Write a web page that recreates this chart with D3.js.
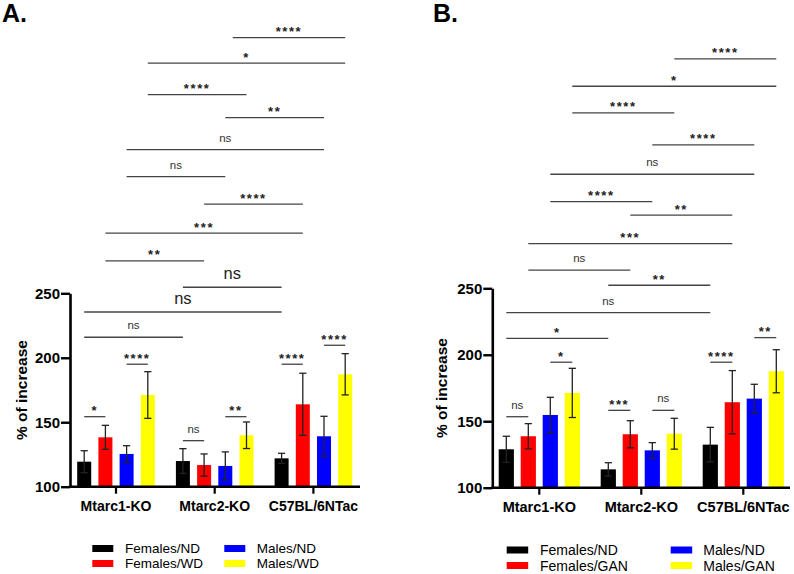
<!DOCTYPE html>
<html>
<head>
<meta charset="utf-8">
<script src="https://cdn.jsdelivr.net/npm/d3@7"></script>
<style>
  html, body { margin: 0; padding: 0; background: #fff; }
  svg { display: block; font-family: "Liberation Sans", Arial, sans-serif; }
</style>
</head>
<body>
<svg id="chart" width="794" height="574"></svg>
<script>
// ---------------- DATA ----------------
const groups = ["Mtarc1-KO", "Mtarc2-KO", "C57BL/6NTac"];
const seriesA = ["Females/ND", "Females/WD", "Males/ND", "Males/WD"];
const seriesB = ["Females/ND", "Females/GAN", "Males/ND", "Males/GAN"];
const colors = ["#000000", "#ff0000", "#0000ff", "#ffff00"];
const yTicks = [100, 150, 200, 250];

// means per group (rows) x series (cols)
const meanA = [[119.4, 138.3, 125.4, 171.1], [119.9, 116.8, 116.1, 139.9], [122.0, 163.9, 139.1, 187.2]];
const errA  = [[8.5, 9.3, 6.4, 18.1], [9.6, 8.6, 10.9, 10.3], [3.9, 24.1, 15.5, 16.0]];
const meanB = [[128.9, 138.7, 154.7, 171.3], [113.8, 140.2, 128.1, 140.6], [132.4, 164.3, 167.0, 187.6]];
const errB  = [[9.8, 9.5, 13.3, 18.5], [5.0, 10.2, 5.8, 11.6], [13.0, 23.8, 10.8, 16.2]];

// significance brackets: [group1, bar1, group2, bar2, level (y units), label, big]
const annA = [
  [0, 0, 0, 1, 154.3, "*", 0], [0, 2, 0, 3, 195.0, "****", 0],
  [1, 0, 1, 1, 135.7, "ns", 0], [1, 2, 1, 3, 154.3, "**", 0],
  [2, 0, 2, 1, 195.0, "****", 0], [2, 2, 2, 3, 209.7, "****", 0],
  [0, 0, 1, 0, 215.9, "ns", 0], [0, 0, 2, 0, 235.5, "ns", 1],
  [1, 0, 2, 0, 254.7, "ns", 1], [0, 1, 1, 1, 275.1, "**", 0],
  [0, 1, 2, 1, 296.6, "***", 0], [1, 1, 2, 1, 319.1, "****", 0],
  [0, 2, 1, 2, 340.5, "ns", 0], [0, 2, 2, 2, 361.4, "ns", 0],
  [1, 2, 2, 2, 386.3, "**", 0], [0, 3, 1, 3, 404.1, "****", 0],
  [0, 3, 2, 3, 428.5, "*", 0], [1, 2.35, 2, 3, 448.3, "****", 0]
];
const annB = [
  [0, 0, 0, 1, 153.4, "ns", 0], [0, 2, 0, 3, 194.4, "*", 0],
  [1, 0, 1, 1, 158.2, "***", 0], [1, 2, 1, 3, 158.2, "ns", 0],
  [2, 0, 2, 1, 194.4, "****", 0], [2, 2, 2, 3, 212.9, "**", 0],
  [0, 0, 1, 0, 212.4, "*", 0], [0, 0, 2, 0, 231.7, "ns", 0],
  [1, 0, 2, 0, 252.3, "**", 0], [0, 1, 1, 1, 263.6, "ns", 0],
  [0, 1, 2, 1, 283.6, "***", 0], [1, 1, 2, 1, 305.0, "**", 0],
  [0, 2, 1, 2, 315.2, "****", 0], [0, 2, 2, 2, 335.8, "ns", 0],
  [1, 2, 2, 2, 357.9, "****", 0], [0, 3, 1, 3, 381.9, "****", 0],
  [0, 3, 2, 3, 402.0, "*", 0], [1, 3, 2, 3, 422.6, "****", 0]
];

// ---------------- DRAW ----------------
const svg = d3.select("#chart");
const FONT = "'Liberation Sans', Arial, sans-serif";

function panel(cfg) {
  const g = svg.append("g");
  const y = d3.scaleLinear().domain([100, 250]).range([cfg.y100, cfg.y250]);
  const x = d3.scaleBand().domain(groups)
    .range([cfg.c0 - cfg.gstep / 2, cfg.c0 + cfg.gstep * (groups.length - 0.5)])
    .padding(0);
  const offs = d3.scaleLinear().domain([0, 3]).range([-1.5 * cfg.bstep, 1.5 * cfg.bstep]);
  const bx = (gi, bi) => x(groups[gi]) + x.bandwidth() / 2 + offs(bi);

  // bars
  const rows = [];
  cfg.mean.forEach((r, gi) => r.forEach((v, bi) => rows.push({ gi, bi, v, e: cfg.err[gi][bi] })));
  g.selectAll("rect.bar").data(rows).enter().append("rect")
    .attr("x", d => bx(d.gi, d.bi) - cfg.bw / 2)
    .attr("width", cfg.bw)
    .attr("y", d => y(d.v))
    .attr("height", d => y(100) - y(d.v))
    .attr("fill", d => colors[d.bi]);

  // error bars
  const eb = g.append("g").attr("stroke", "#222").attr("stroke-width", 1.3).attr("fill", "none");
  rows.forEach(d => {
    const cx = bx(d.gi, d.bi);
    eb.append("line").attr("x1", cx).attr("x2", cx).attr("y1", y(d.v - d.e)).attr("y2", y(d.v + d.e));
    [d.v - d.e, d.v + d.e].forEach(t => {
      eb.append("line").attr("x1", cx - 3.6).attr("x2", cx + 3.6).attr("y1", y(t)).attr("y2", y(t));
    });
  });

  // y axis
  const ya = g.append("g").attr("transform", `translate(${cfg.axisX},0)`)
    .call(d3.axisLeft(y).tickValues(yTicks).tickSize(9).tickPadding(1).tickSizeOuter(0));
  ya.select(".domain").attr("stroke-width", 2.6).attr("stroke", "#000");
  ya.selectAll(".tick line").attr("stroke-width", 2.4).attr("stroke", "#000");
  ya.selectAll(".tick text").attr("font-family", FONT).attr("font-weight", "bold")
    .attr("font-size", cfg.tickFont).attr("fill", "#000");

  // x axis
  const xa = g.append("g").attr("transform", `translate(0,${y(100)})`)
    .call(d3.axisBottom(x).tickSize(7).tickSizeOuter(0));
  xa.select(".domain").remove();
  xa.selectAll(".tick line").attr("stroke-width", 2.2).attr("stroke", "#000");
  xa.selectAll(".tick text").attr("font-family", FONT).attr("font-weight", "bold")
    .attr("font-size", cfg.catFont).attr("fill", "#000").attr("dy", null).attr("y", 24);
  g.append("line").attr("x1", cfg.axisX - 1.3).attr("x2", cfg.xEnd)
    .attr("y1", y(100)).attr("y2", y(100)).attr("stroke", "#000").attr("stroke-width", 2.6);

  // y title
  g.append("text").attr("transform", `translate(${cfg.titleX},${(y(100) + y(250)) / 2}) rotate(-90)`)
    .attr("text-anchor", "middle").attr("dominant-baseline", "central")
    .attr("font-family", FONT).attr("font-weight", "bold").attr("font-size", 15.5)
    .text("% of increase");

  // panel letter
  g.append("text").attr("x", cfg.letterX).attr("y", 22)
    .attr("font-family", FONT).attr("font-weight", "bold").attr("font-size", 25)
    .text(cfg.letter);

  // significance brackets
  const sg = g.append("g");
  cfg.ann.forEach(a => {
    const x1 = bx(a[0], a[1]), x2 = bx(a[2], a[3]), ly = y(a[4]);
    sg.append("line").attr("x1", x1).attr("x2", x2).attr("y1", ly).attr("y2", ly)
      .attr("stroke", "#444").attr("stroke-width", 1.3);
    const isStar = a[5].indexOf("*") >= 0;
    const t = sg.append("text").attr("x", (x1 + x2) / 2).attr("text-anchor", "middle")
      .attr("font-family", FONT).attr("fill", "#222").text(a[5]);
    if (isStar) {
      t.attr("y", ly - 1.5).attr("font-size", 13).attr("font-weight", "bold")
       .attr("letter-spacing", 1.6);
    } else if (a[6]) {
      t.attr("y", ly - 8).attr("font-size", 16.5);
    } else {
      t.attr("y", ly - 8).attr("font-size", 11.5).attr("fill", "#333");
    }
  });

  // legend
  const lg = g.append("g");
  cfg.series.forEach((s, i) => {
    const col = Math.floor(i / 2), row = i % 2;
    const sx = cfg.legX[col], cy = cfg.legY[row];
    lg.append("rect").attr("x", sx).attr("y", cy - 3.5).attr("width", cfg.swW).attr("height", 7)
      .attr("fill", colors[i]);
    lg.append("text").attr("x", cfg.legTX[col]).attr("y", cy).attr("dominant-baseline", "central")
      .attr("font-family", FONT).attr("font-size", cfg.legFont).attr("fill", "#000").text(s);
  });
}

panel({
  letter: "A.", letterX: 2, axisX: 70, xEnd: 360, y100: 486.7, y250: 293.3,
  c0: 116, gstep: 98.7, bstep: 21.2, bw: 14, mean: meanA, err: errA, ann: annA,
  tickFont: 15, catFont: 14, titleX: 21.5, series: seriesA,
  legX: [92.3, 224.3], legTX: [125, 256.7], legY: [548.5, 563.5], swW: 21, legFont: 13.5
});
panel({
  letter: "B.", letterX: 433, axisX: 492.3, xEnd: 790, y100: 487.7, y250: 288.3,
  c0: 539.3, gstep: 102, bstep: 22, bw: 15.2, mean: meanB, err: errB, ann: annB,
  tickFont: 15, catFont: 14.5, titleX: 441.5, series: seriesB,
  legX: [506.7, 670.7], legTX: [540, 703.3], legY: [550, 565.5], swW: 21.5, legFont: 14
});
</script>
</body>
</html>
